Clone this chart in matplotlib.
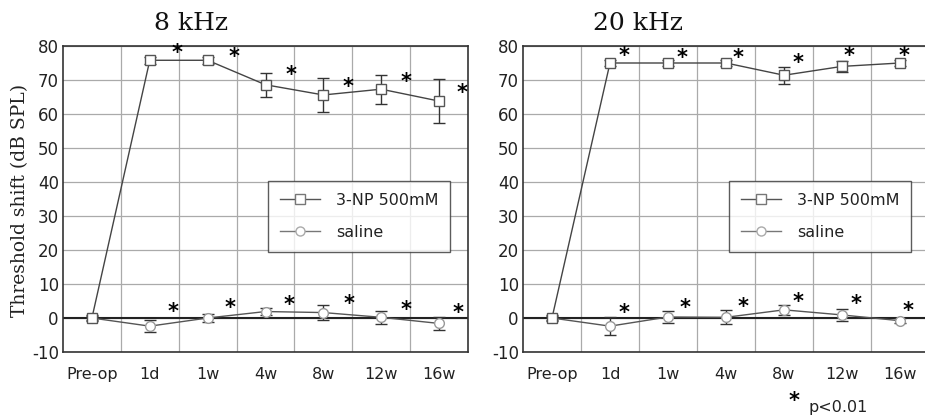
import matplotlib
matplotlib.use("Agg")
import matplotlib.pyplot as plt
from matplotlib.lines import Line2D
import numpy as np

categories = ["Pre-op", "1d", "1w", "4w", "8w", "12w", "16w"]

# 8 kHz
np8_mean = [0, 75.8, 75.8, 68.6, 65.6, 67.3, 63.8]
np8_err = [0.8, 1.0, 1.0, 3.5, 5.0, 4.3, 6.5]
sal8_mean = [0, -2.4, 0.0, 1.9, 1.6, 0.2, -1.6]
sal8_err = [0.5, 1.7, 1.2, 1.1, 2.2, 2.0, 2.0]
star8_np_x = [1.47, 2.45, 3.45, 4.43, 5.43, 6.40]
star8_np_y = [79.0, 77.8, 72.6, 68.8, 70.5, 67.3]
star8_sal_x = [1.40, 2.38, 3.40, 4.44, 5.43, 6.32]
star8_sal_y = [2.8, 3.8, 4.8, 5.0, 3.3, 2.5]

# 20 kHz
np20_mean = [0, 75.0, 75.0, 75.0, 71.4, 74.0, 75.0]
np20_err = [0.8, 1.0, 1.0, 1.0, 2.5, 1.5, 1.0]
sal20_mean = [0, -2.4, 0.3, 0.2, 2.4, 0.9, -0.8]
sal20_err = [0.5, 2.7, 1.7, 2.1, 1.5, 1.8, 0.7]
star20_np_x = [1.25, 2.25, 3.20, 4.25, 5.12, 6.07]
star20_np_y = [78.0, 77.5, 77.4, 75.9, 78.0, 78.0]
star20_sal_x = [1.25, 2.29, 3.29, 4.25, 5.25, 6.14]
star20_sal_y = [2.5, 3.8, 4.3, 5.8, 5.0, 3.1]

titles = ["8 kHz", "20 kHz"]
series_labels = ["3-NP 500mM", "saline"]
yticks = [-10, 0, 10, 20, 30, 40, 50, 60, 70, 80]

W, H = 925, 419
fig = plt.figure(figsize=(W / 100, H / 100), dpi=100)
fig.patch.set_facecolor("white")

positions = [
    [63 / W, 1 - 352 / H, 405 / W, 306 / H],
    [523 / W, 1 - 352 / H, 406 / W, 306 / H],
]
legend_left_px = [268, 729]
title_x_px = [191, 638]

datasets = [
    (np8_mean, np8_err, sal8_mean, sal8_err, star8_np_x, star8_np_y, star8_sal_x, star8_sal_y),
    (np20_mean, np20_err, sal20_mean, sal20_err, star20_np_x, star20_np_y, star20_sal_x, star20_sal_y),
]

x = np.arange(len(categories))
sans = ["DejaVu Sans"]
serif = ["DejaVu Serif"]
star_dy = -1.0

for i, (pos, data) in enumerate(zip(positions, datasets)):
    npm, npe, sm, se, snx, sny, ssx, ssy = data
    ax = fig.add_axes(pos)
    ax.set_xlim(-0.5, len(categories) - 0.5)
    ax.set_ylim(-10, 80)
    ax.set_xticks(x)
    ax.set_xticklabels(categories, fontsize=11.5, family=sans, color="#222")
    ax.set_yticks(yticks)
    ax.set_yticklabels([str(v) for v in yticks], fontsize=12, family=sans, color="#222")
    ax.tick_params(length=0)
    ax.tick_params(axis="x", pad=11)
    ax.tick_params(axis="y", pad=3)
    ax.set_xticks(x[:-1] + 0.5, minor=True)
    ax.tick_params(which="minor", length=0)
    ax.grid(True, which="minor", axis="x", color="#aaaaaa", lw=0.9)
    ax.grid(True, which="major", axis="y", color="#aaaaaa", lw=0.9)
    ax.set_axisbelow(True)
    ax.axhline(0, color="#222", lw=1.5, zorder=1.5)
    for s in ax.spines.values():
        s.set_color("#333")
        s.set_linewidth(1.2)

    ax.errorbar(x, sm, yerr=se, fmt="-o", color="#555", lw=1.0, ms=7,
                mfc="white", mec="#999", ecolor="#333", elinewidth=1.0,
                capsize=4, capthick=1.0, zorder=3)
    ax.errorbar(x, npm, yerr=npe, fmt="-s", color="#444", lw=1.0, ms=7,
                mfc="white", mec="#555", ecolor="#333", elinewidth=1.0,
                capsize=4, capthick=1.0, zorder=4)

    for xx, yy in zip(snx, sny):
        ax.text(xx, yy + star_dy, "*", fontsize=15, ha="center", va="center",
                family=sans, color="#000", fontweight="bold", zorder=5)
    for xx, yy in zip(ssx, ssy):
        ax.text(xx, yy + star_dy, "*", fontsize=15, ha="center", va="center",
                family=sans, color="#000", fontweight="bold", zorder=5)

    handles = [
        Line2D([], [], color="#555", lw=1.0, marker="s", ms=6.5, mfc="white", mec="#777"),
        Line2D([], [], color="#777", lw=1.0, marker="o", ms=6.5, mfc="white", mec="#aaa"),
    ]
    leg = ax.legend(handles, series_labels, loc="upper left",
                    bbox_to_anchor=((legend_left_px[i] - pos[0] * W) / (pos[2] * W),
                                    (352 - 181) / 306),
                    frameon=True, fancybox=False, edgecolor="#333",
                    prop={"family": sans, "size": 11.5}, handlelength=2.5,
                    borderpad=0.75, labelspacing=1.05, handletextpad=1.0,
                    borderaxespad=0)
    leg.get_frame().set_linewidth(1.0)
    for t in leg.get_texts():
        t.set_color("#222")

    fig.text(title_x_px[i] / W, 1 - 23 / H, titles[i],
             fontsize=18, family=serif, ha="center", va="center", color="#111")

fig.text(20 / W, 1 - 200 / H, "Threshold shift (dB SPL)", rotation=90,
         fontsize=13.5, family=serif, ha="center", va="center", color="#222")

fig.text(794 / W, 1 - 401 / H, "*", fontsize=15, family=sans, ha="center",
         va="center", color="#000", fontweight="bold")
fig.text(808 / W, 1 - 407 / H, "p<0.01", fontsize=11.5, family=sans, ha="left",
         va="center", color="#222")

fig.savefig("out.png", dpi=100, facecolor="white")
